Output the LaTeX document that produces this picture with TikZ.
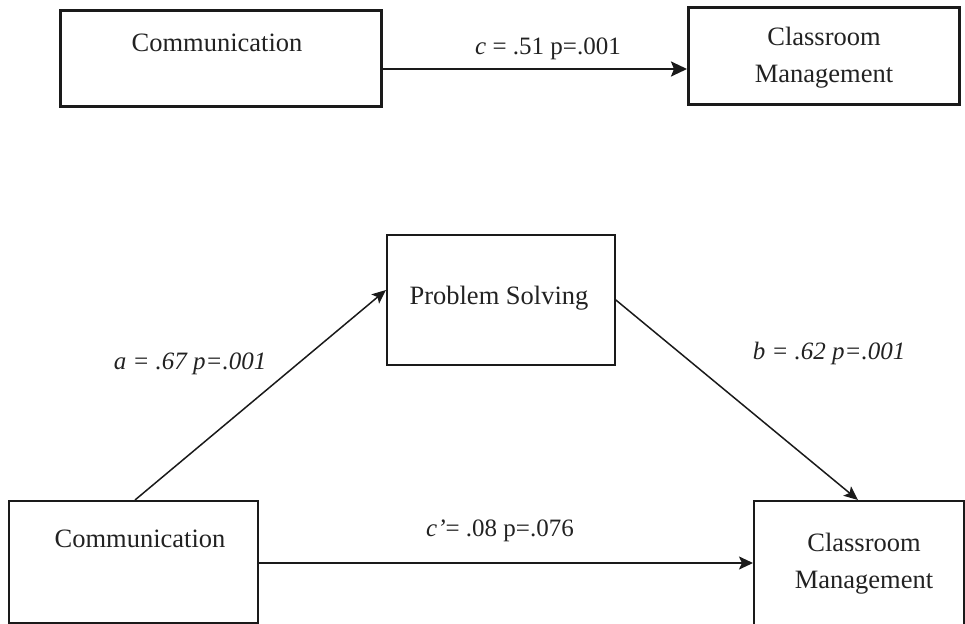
\documentclass[tikz,border=0pt]{standalone}
\usepackage{fontspec}
\setmainfont{Liberation Serif}
\usetikzlibrary{arrows.meta}
\definecolor{ink}{HTML}{1A1A1A}
\definecolor{txtc}{HTML}{222222}
\tikzset{
  boxthick/.style={draw=ink, line width=3.2pt, inner sep=0pt, anchor=north west, rectangle},
  boxthin/.style={draw=ink, line width=1.6pt, inner sep=0pt, anchor=north west, rectangle},
  boxtext/.style={text=txtc, inner sep=0pt, anchor=base, font=\fontsize{26.5}{37}\selectfont, align=center},
  lbl/.style={text=txtc, inner sep=0pt, anchor=base, font=\fontsize{25}{30}\selectfont},
  arrthick/.style={draw=ink, line width=2.3pt, -{Stealth[length=16pt,width=15pt,inset=3pt]}},
  arrthin/.style={draw=ink, line width=1.5pt, -{Stealth[length=14pt,width=12pt,inset=3pt]}},
  arrmid/.style={draw=ink, line width=2pt, -{Stealth[length=14pt,width=13pt,inset=3pt]}}
}
\begin{document}
\begin{tikzpicture}[x=1pt, y=-1pt]
\useasboundingbox (0,0) rectangle (965,623);
% top model
\node[boxthick, minimum width=321pt, minimum height=96pt] (c1) at (59,9) {};
\node[boxthick, minimum width=271pt, minimum height=97pt] (m1) at (687,6) {};
\node[boxtext] (c1t) at (217,52) {Communication};
\node[boxtext] (m1t) at (824,83) {Classroom\\Management};
\draw[arrthick] (c1.east |- 0,69) -- (m1.west |- 0,69);
\node[lbl] (lc) at (548,55) {\textit{c} = .51 p=.001};
% mediation model
\node[boxthin, minimum width=228pt, minimum height=130pt] (ps) at (386,234) {};
\node[boxthin, minimum width=249pt, minimum height=122pt] (cb) at (8,500) {};
\node[boxthin, minimum width=210pt, minimum height=140pt] (cm) at (753,500) {};
\node[boxtext] (pst) at (499,304) {Problem Solving};
\node[boxtext] (cbt) at (140,547) {Communication};
\node[boxtext] (cmt) at (864,588) {Classroom\\Management};
\draw[arrthin] (cb.north -| 135,0) -- (ps.west |- 0,290);
\draw[arrthin] (ps.east) -- (cm.north -| 858,0);
\draw[arrmid] (cb.east |- 0,563) -- (cm.west |- 0,563);
\node[lbl] (la) at (190,369) {\textit{a = .67 p=.001}};
\node[lbl] (lb) at (829,359) {\textit{b = .62 p=.001}};
\node[lbl] (lcp) at (500,536) {\textit{c’}= .08 p=.076};
\end{tikzpicture}
\end{document}
